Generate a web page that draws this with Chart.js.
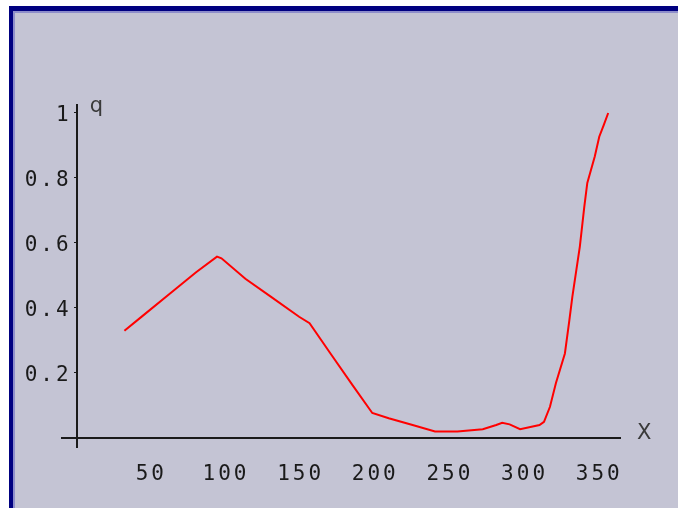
<!DOCTYPE html>
<html>
<head>
<meta charset="utf-8">
<script src="https://cdn.jsdelivr.net/npm/chart.js@4/dist/chart.umd.min.js"></script>
<style>
  html, body { margin: 0; padding: 0; background: #ffffff; }
  .frame {
    position: absolute; left: 9px; top: 6px; width: 665px; height: 497px;
    border-top: 5px solid #000080; border-left: 4px solid #000080;
    background: #c4c4d4;
    box-shadow: inset 2px 2px 0 #8e8ecb;
  }
  #qCanvas { position: absolute; left: 0; top: 0; }
</style>
</head>
<body>
<div class="frame"></div>
<canvas id="qCanvas" width="678" height="508"></canvas>
<script>
const qCanvas = document.getElementById("qCanvas");

// curve
var xValues = [32, 44, 64, 80, 94, 97, 113, 130, 149, 156, 170, 185, 198, 209, 225, 240, 255,
  272, 281, 285, 290, 297, 310, 313, 317, 321, 327, 330, 332, 337, 340, 342, 347, 350, 353, 356];
var qValues = [0.33, 0.375, 0.45, 0.51, 0.558, 0.553, 0.49, 0.435, 0.373, 0.353, 0.26, 0.161, 0.077,
  0.061, 0.04, 0.02, 0.02, 0.027, 0.04, 0.047, 0.042, 0.027, 0.04, 0.05, 0.096, 0.169, 0.26,
  0.363, 0.435, 0.589, 0.712, 0.785, 0.866, 0.927, 0.963, 1.0];

var xTicks = [50, 100, 150, 200, 250, 300, 350];
var yTicks = [0.2, 0.4, 0.6, 0.8, 1];

var points = [];
for (let i = 0; i < xValues.length; i++) {
  points.push({ x: xValues[i], y: qValues[i] });
}

var tickFont = { family: "DejaVu Sans Mono", size: 21 };

// spaced-out tick text plus the two axis letters
const axisText = {
  id: "axisText",
  beforeDraw(chart) {
    chart.ctx.letterSpacing = "3px";
    // padding is ignored for an axis placed at a value, so nudge the y labels by hand
    const ys = chart.scales.y;
    if (!ys._nudged) {
      const orig = ys.drawLabels.bind(ys);
      ys.drawLabels = function (area) {
        ys.ctx.save();
        ys.ctx.translate(-5, 3);
        orig(area);
        ys.ctx.restore();
      };
      ys._nudged = true;
    }
  },
  afterDraw(chart) {
    const ctx = chart.ctx;
    const x = chart.scales.x, y = chart.scales.y;
    ctx.save();
    ctx.letterSpacing = "0px";
    ctx.fillStyle = "#3a3a3a";
    ctx.font = "21px 'DejaVu Sans'";
    ctx.textBaseline = "top";
    ctx.textAlign = "left";
    ctx.fillText("q", x.getPixelForValue(0) + 13, y.top - 9);
    ctx.fillText("X", x.right + 17, y.getPixelForValue(0) - 15);
    ctx.restore();
  }
};

new Chart(qCanvas, {
  type: "line",
  data: {
    datasets: [{
      data: points,
      borderColor: "#ff0000",
      borderWidth: 2,
      pointRadius: 0,
      tension: 0,
      fill: false
    }]
  },
  options: {
    responsive: false,
    animation: false,
    devicePixelRatio: 1,
    layout: { padding: { left: 62, top: 105, right: 58, bottom: 61 } },
    plugins: { legend: { display: false }, tooltip: { enabled: false } },
    scales: {
      x: {
        type: "linear",
        min: -9.8,
        max: 363.9,
        position: { y: 0 },
        afterBuildTicks: s => { s.ticks = xTicks.map(v => ({ value: v })); },
        grid: { display: true, drawOnChartArea: false, drawTicks: false },
        border: { color: "#1a1a1a", width: 2 },
        ticks: { font: tickFont, color: "#1a1a1a", padding: 24, maxRotation: 0, autoSkip: false }
      },
      y: {
        type: "linear",
        min: -0.0277,
        max: 1.0246,
        position: { x: 0 },
        afterBuildTicks: s => { s.ticks = yTicks.map(v => ({ value: v })); },
        grid: { display: true, drawOnChartArea: false, drawTicks: true, tickLength: 2, color: "#1a1a1a" },
        border: { color: "#1a1a1a", width: 2 },
        ticks: { font: tickFont, color: "#1a1a1a", padding: 8, autoSkip: false, callback: v => String(v) }
      }
    }
  },
  plugins: [axisText]
});
</script>
</body>
</html>
